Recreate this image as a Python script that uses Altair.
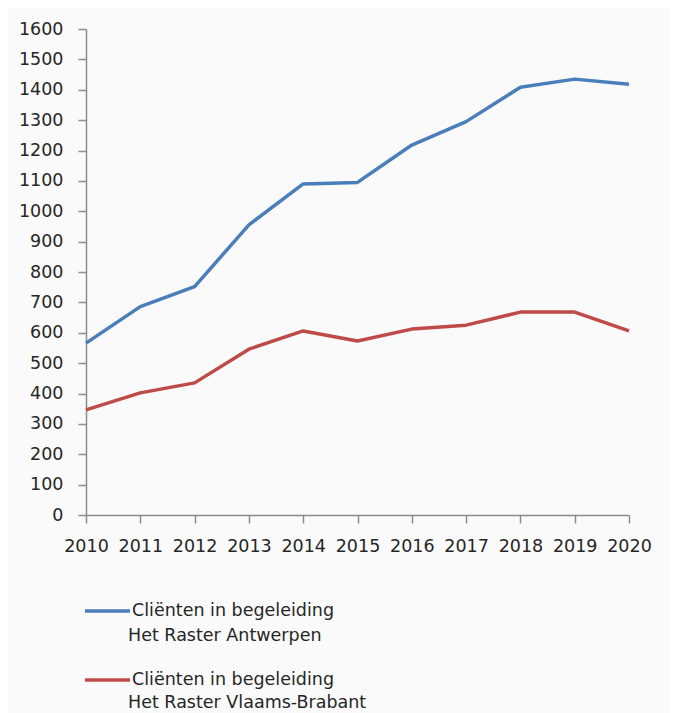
import altair as alt
import pandas as pd

years = [2010, 2011, 2012, 2013, 2014, 2015, 2016, 2017, 2018, 2019, 2020]
antwerpen = [566, 686, 752, 955, 1090, 1095, 1218, 1295, 1408, 1435, 1418]
vlaams_brabant = [346, 402, 435, 546, 606, 573, 612, 625, 668, 668, 606]
series_line1 = ["Cliënten in begeleiding", "Cliënten in begeleiding"]
series_line2 = ["Het Raster Antwerpen", "Het Raster Vlaams-Brabant"]
colors = ["#4A7EBB", "#BE4B48"]
y_ticks = list(range(0, 1700, 100))

series_names = [a + "|" + b for a, b in zip(series_line1, series_line2)]
rows = []
for name, sub, vals in zip(series_names, series_line2, [antwerpen, vlaams_brabant]):
    for yr, v in zip(years, vals):
        rows.append({"year": yr, "value": v, "series": name, "sub": sub})
df = pd.DataFrame(rows)

FONT = "DejaVu Sans"
TXT = "#262626"
FS = 17.5

common_legend = dict(
    title=None,
    orient="none",
    legendX=-19,
    symbolType="stroke",
    symbolSize=2025,
    labelBaseline="middle",
    labelFontSize=FS,
    labelFont=FONT,
    labelColor=TXT,
    labelLimit=400,
    labelOffset=0,
    rowPadding=36,
    padding=16,
)

chart = (
    alt.Chart(df)
    .mark_line(strokeWidth=3.5, strokeCap="butt", strokeJoin="round")
    .encode(
        x=alt.X(
            "year:Q",
            scale=alt.Scale(domain=[2010, 2020], nice=False, zero=False),
            axis=alt.Axis(values=years, format="d", title=None, grid=False,
                          labelFlush=False, labelOverlap=False),
        ),
        y=alt.Y(
            "value:Q",
            scale=alt.Scale(domain=[0, 1600], nice=False),
            axis=alt.Axis(values=y_ticks, format="d", title=None, grid=False,
                          labelOverlap=False, labelPadding=15),
        ),
        color=alt.Color(
            "series:N",
            scale=alt.Scale(domain=series_names, range=colors),
            legend=alt.Legend(
                legendY=541.5,
                symbolStrokeWidth=3.5,
                labelExpr="split(datum.label, '|')[0]",
                **common_legend,
            ),
        ),
        opacity=alt.Opacity(
            "sub:N",
            scale=alt.Scale(domain=series_line2, range=[1, 1]),
            legend=alt.Legend(
                legendY=568,
                symbolStrokeWidth=0,
                symbolOpacity=0,
                **common_legend,
            ),
        ),
    )
    .properties(
        width=543,
        height=486,
        padding={"left": 10, "top": 12, "right": 17, "bottom": 0},
    )
    .configure(background="#fafafa")
    .configure_view(fill="#fafafa", stroke=None)
    .configure_axis(
        domainColor="#8c8c8c",
        tickColor="#8c8c8c",
        domainWidth=1.5,
        tickWidth=1.5,
        tickSize=8,
        labelPadding=13,
        labelFont=FONT,
        labelFontSize=FS,
        labelColor=TXT,
    )
    .configure_axisX(labelPadding=14)
)

chart.save("out.html", embed_options={"renderer": "svg", "actions": False})
